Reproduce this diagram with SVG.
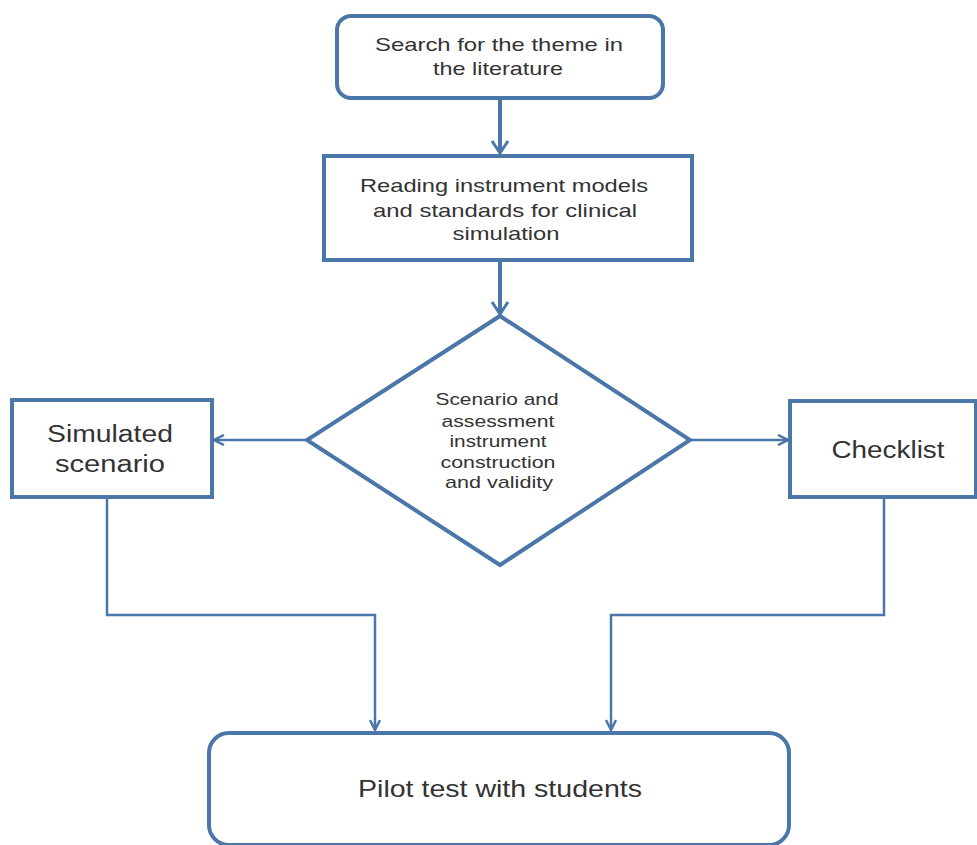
<svg xmlns="http://www.w3.org/2000/svg" width="977" height="845" viewBox="0 0 977 845">
<style>
.box{fill:#fff;stroke:#4a76a8;stroke-width:4}
.t{font-family:"Liberation Sans",Arial,sans-serif;fill:#333;text-anchor:middle}
.c{fill:none;stroke:#4a76a8}
.thick{stroke-width:4}
.thin{stroke-width:2.5}
</style>
<defs>
<marker id="ah" viewBox="0 0 12 12" refX="11" refY="6" markerWidth="12" markerHeight="12" markerUnits="userSpaceOnUse" orient="auto">
<path d="M1,1 L11,6 L1,11" fill="none" stroke="#4a76a8" stroke-width="2.5"/>
</marker>
<marker id="ah2" viewBox="0 0 16 20" refX="14" refY="10" markerWidth="16" markerHeight="20" markerUnits="userSpaceOnUse" orient="auto">
<path d="M2,2 L14,10 L2,18" fill="none" stroke="#4a76a8" stroke-width="3"/>
</marker>
</defs>
<rect width="977" height="845" fill="#fff"/>
<g id="connectors">
<path class="c thick" d="M500,98 V153" marker-end="url(#ah2)"/>
<path class="c thick" d="M500,260 V314" marker-end="url(#ah2)"/>
<path class="c thin" d="M307,440 H214" marker-end="url(#ah)"/>
<path class="c thin" d="M690,440 H788" marker-end="url(#ah)"/>
<path class="c thin" d="M107,498 V615 H375 V730" marker-end="url(#ah)"/>
<path class="c thin" d="M884,498 V615 H611 V730" marker-end="url(#ah)"/>
</g>
<g id="n1">
<rect class="box" x="337" y="16" width="326" height="82" rx="14"/>
<text class="t" font-size="19" x="499" y="51" textLength="248" lengthAdjust="spacingAndGlyphs">Search for the theme in</text>
<text class="t" font-size="19" x="498" y="75" textLength="130" lengthAdjust="spacingAndGlyphs">the literature</text>
</g>
<g id="n2">
<rect class="box" x="324" y="156" width="368" height="104"/>
<text class="t" font-size="19" x="504" y="192" textLength="288" lengthAdjust="spacingAndGlyphs">Reading instrument models</text>
<text class="t" font-size="19" x="505" y="217" textLength="264" lengthAdjust="spacingAndGlyphs">and standards for clinical</text>
<text class="t" font-size="19" x="506" y="240" textLength="107" lengthAdjust="spacingAndGlyphs">simulation</text>
</g>
<g id="n3">
<polygon class="box" points="500,316 690,440 500,565 307,440"/>
<text class="t" font-size="17" x="497" y="405" textLength="123" lengthAdjust="spacingAndGlyphs">Scenario and</text>
<text class="t" font-size="17" x="498" y="427" textLength="113" lengthAdjust="spacingAndGlyphs">assessment</text>
<text class="t" font-size="17" x="498" y="447" textLength="97" lengthAdjust="spacingAndGlyphs">instrument</text>
<text class="t" font-size="17" x="498" y="468" textLength="115" lengthAdjust="spacingAndGlyphs">construction</text>
<text class="t" font-size="17" x="499" y="488" textLength="108" lengthAdjust="spacingAndGlyphs">and validity</text>
</g>
<g id="n4">
<rect class="box" x="12" y="400" width="200" height="97"/>
<text class="t" font-size="23" x="110" y="442" textLength="126" lengthAdjust="spacingAndGlyphs">Simulated</text>
<text class="t" font-size="23" x="110" y="472" textLength="110" lengthAdjust="spacingAndGlyphs">scenario</text>
</g>
<g id="n5">
<rect class="box" x="790" y="401" width="186" height="96"/>
<text class="t" font-size="23" x="888" y="458" textLength="113" lengthAdjust="spacingAndGlyphs">Checklist</text>
</g>
<g id="n6">
<rect class="box" x="209" y="733" width="580" height="112" rx="20"/>
<text class="t" font-size="24" x="500" y="797" textLength="284" lengthAdjust="spacingAndGlyphs">Pilot test with students</text>
</g>
</svg>
